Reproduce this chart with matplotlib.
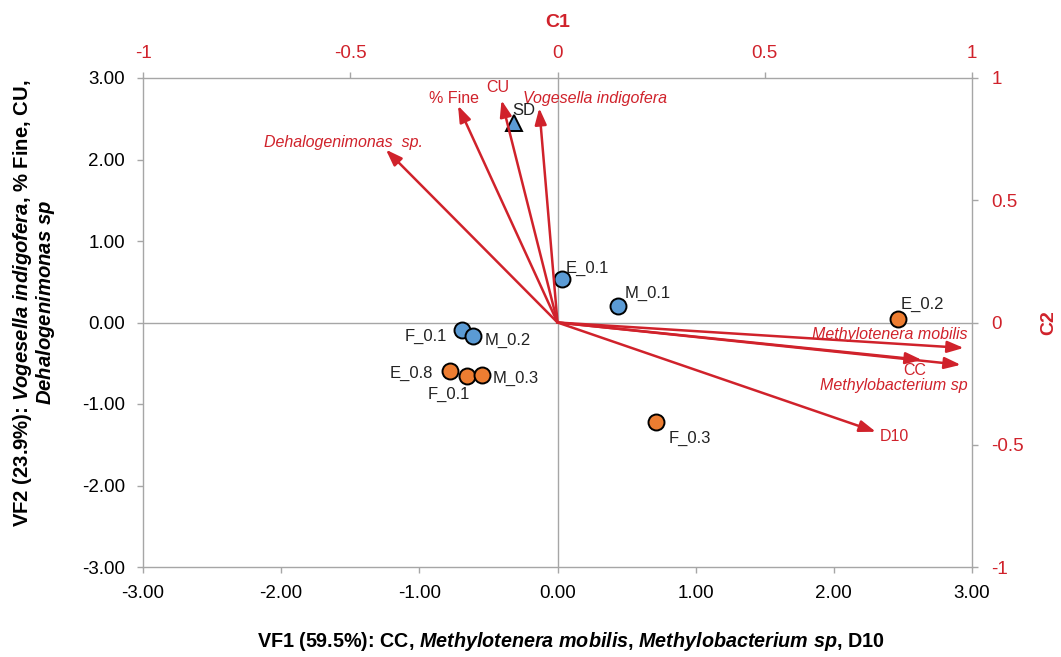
import matplotlib
matplotlib.use("Agg")
import matplotlib.pyplot as plt
from matplotlib.ticker import FixedLocator, FuncFormatter

plt.rcParams["font.family"] = ["Liberation Sans", "DejaVu Sans"]
plt.rcParams["mathtext.fontset"] = "custom"
plt.rcParams["mathtext.rm"] = "Liberation Sans:bold"
plt.rcParams["mathtext.it"] = "Liberation Sans:italic"
plt.rcParams["mathtext.bf"] = "Liberation Sans:bold"
plt.rcParams["mathtext.bfit"] = "Liberation Sans:italic:bold"

# ---- sample scores (VF1, VF2) ----
sample_names = ["E_0.1", "M_0.1", "F_0.1", "M_0.2",
                "E_0.2", "E_0.8", "F_0.1", "M_0.3", "F_0.3"]
sample_vf1 = [0.034, 0.439, -0.694, -0.610,
              2.465, -0.779, -0.653, -0.545, 0.712]
sample_vf2 = [0.533, 0.205, -0.098, -0.163,
              0.042, -0.593, -0.651, -0.642, -1.215]
sample_group = ["blue", "blue", "blue", "blue",
                "orange", "orange", "orange", "orange", "orange"]

sd_name = "SD"
sd_vf1 = [-0.315]
sd_vf2 = [2.448]

# ---- variable loadings (C1, C2) ----
var_names = ["Dehalogenimonas  sp.", "% Fine", "CU", "Vogesella indigofera",
             "Methylotenera mobilis", "CC", "Methylobacterium sp", "D10"]
var_c1 = [-0.414, -0.240, -0.135, -0.044, 0.980, 0.879, 0.973, 0.768]
var_c2 = [0.707, 0.887, 0.909, 0.877, -0.104, -0.153, -0.173, -0.447]
var_italic = [True, False, False, True, True, False, True, False]

score_ticks = [-3, -2, -1, 0, 1, 2, 3]
loading_ticks = [-1, -0.5, 0, 0.5, 1]

# ---- styling ----
RED = "#D0222B"
GREY = "#A6A6A6"
COLORS = {"blue": "#5B9BD5", "orange": "#ED7D31"}

# label placement (pixel offsets from the marker / arrow tip)
sample_label_layout = [
    ("left", 3, 11), ("left", 6, 12), ("right", -15, -6), ("left", 11, -5),
    ("left", 3, 15), ("right", -17, -3), ("center", -18, -19),
    ("left", 10, -4), ("left", 13, -17),
]
sd_label_layout = ("left", -2, 12)
var_label_layout = [
    ("center", -42, 7), ("center", -4, 7), ("center", -4, 13),
    ("left", -16, 10), ("right", 4, 13), ("center", -7, -11),
    ("right", 7, -21), ("left", 4, -5),
]

fig = plt.figure(figsize=(10.61, 6.57), dpi=100)
rect = [143 / 1061, 1 - 567 / 657, (972 - 143) / 1061, (567 - 78) / 657]
ax = fig.add_axes(rect)
ax.set_xlim(-3, 3)
ax.set_ylim(-3, 3)
for s in ax.spines.values():
    s.set_color(GREY)
    s.set_linewidth(1.0)
ax.axhline(0, color=GREY, lw=1.0, zorder=1)
ax.axvline(0, color=GREY, lw=1.0, zorder=1)

ax.xaxis.set_major_locator(FixedLocator(score_ticks))
ax.yaxis.set_major_locator(FixedLocator(score_ticks))
fmt2 = FuncFormatter(lambda v, p: f"{v:.2f}")
ax.xaxis.set_major_formatter(fmt2)
ax.yaxis.set_major_formatter(fmt2)
ax.tick_params(axis="both", direction="out", length=4, width=1, color=GREY,
               labelsize=13.5, labelcolor="black", pad=9)

ax.set_xlabel(r"VF1 (59.5%): CC, $\mathbfit{Methylotenera\ mobilis}$, "
              r"$\mathbfit{Methylobacterium\ sp}$, D10",
              fontsize=14.2, fontweight="bold")
ax.xaxis.set_label_coords(0.516, -0.129)
ax.set_ylabel("VF2 (23.9%): $\\mathbfit{Vogesella\\ indigofera}$, % Fine, CU,\n"
              "$\\mathbfit{Dehalogenimonas\\ sp}$",
              fontsize=14.6, fontweight="bold", linespacing=1.0)
ax.yaxis.set_label_coords(-0.104, 0.54)

# sample points
for x, y, g in zip(sample_vf1, sample_vf2, sample_group):
    ax.plot(x, y, "o", ms=11.5, mfc=COLORS[g], mec="black", mew=1.4, zorder=5)
for name, x, y, (ha, dx, dy) in zip(sample_names, sample_vf1, sample_vf2,
                                    sample_label_layout):
    ax.annotate(name, (x, y), xytext=(dx, dy), textcoords="offset pixels",
                ha=ha, va="center", fontsize=12, color="#222222", zorder=6)

ax.plot(sd_vf1, sd_vf2, "^", ms=12, mfc=COLORS["blue"], mec="black",
        mew=1.4, zorder=5)
ha, dx, dy = sd_label_layout
ax.annotate(sd_name, (sd_vf1[0], sd_vf2[0]), xytext=(dx, dy),
            textcoords="offset pixels", ha=ha, va="center", fontsize=12,
            color="#222222", zorder=6)

# loading axes (C1 top, C2 right)
axc = fig.add_axes(rect, frameon=False)
axc.set_xlim(-1, 1)
axc.set_ylim(-1, 1)
axc.patch.set_visible(False)
axc.xaxis.tick_top()
axc.yaxis.tick_right()
axc.xaxis.set_label_position("top")
axc.yaxis.set_label_position("right")
axc.xaxis.set_major_locator(FixedLocator(loading_ticks))
axc.yaxis.set_major_locator(FixedLocator(loading_ticks))
fmtg = FuncFormatter(lambda v, p: f"{v:g}")
axc.xaxis.set_major_formatter(fmtg)
axc.yaxis.set_major_formatter(fmtg)
axc.tick_params(axis="x", direction="out", length=4, width=1, color=GREY,
                labelsize=13.5, labelcolor=RED, pad=7.5)
axc.tick_params(axis="y", direction="out", length=4, width=1, color=GREY,
                labelsize=13.5, labelcolor=RED, pad=10)
axc.set_xlabel("C1", fontsize=14, fontweight="bold", color=RED, labelpad=13)
axc.set_ylabel("C2", fontsize=14, fontweight="bold", color=RED, labelpad=12,
               rotation=90)

for name, c1, c2, it, (ha, dx, dy) in zip(var_names, var_c1, var_c2,
                                          var_italic, var_label_layout):
    axc.annotate("", xy=(c1, c2), xytext=(0, 0),
                 arrowprops=dict(arrowstyle="-|>,head_length=0.7,head_width=0.25",
                                 mutation_scale=14, color=RED, lw=1.8,
                                 shrinkA=0, shrinkB=0), zorder=3)
    axc.annotate(name, (c1, c2), xytext=(dx, dy), textcoords="offset pixels",
                 ha=ha, va="center", fontsize=11.5, color=RED,
                 style="italic" if it else "normal")

fig.savefig("out.png", dpi=100)
